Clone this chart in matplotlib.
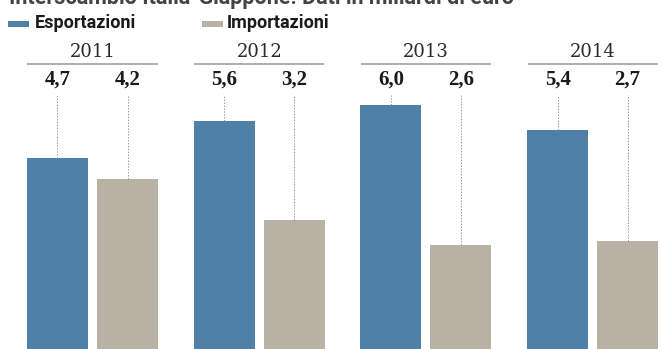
import matplotlib
matplotlib.use("Agg")
import matplotlib.pyplot as plt
from matplotlib.patches import Rectangle
import numpy as np

years = ["2011", "2012", "2013", "2014"]
esportazioni = [4.7, 5.6, 6.0, 5.4]
importazioni = [4.2, 3.2, 2.6, 2.7]
value_labels_exp = ["4,7", "5,6", "6,0", "5,4"]
value_labels_imp = ["4,2", "3,2", "2,6", "2,7"]
series_names = ["Esportazioni", "Importazioni"]
title = "Interscambio Italia-Giappone. Dati in miliardi di euro"

BLUE = "#4f80a8"
GREY = "#b8b1a4"
W, H = 661, 349

cond = ["Roboto", "DejaVu Sans"]
serif = ["DejaVu Serif"]
serif_val = ["Liberation Serif", "DejaVu Serif"]

fig = plt.figure(figsize=(W / 100, H / 100), dpi=100)
# axes: zero baseline ~3px below bottom of image
ax = fig.add_axes([0, -3 / H, 1, 1 + 3 / H])
ax.set_ylim(0, (H + 3) / 41.2)
ax.set_xlim(-92.5 / 166.7, (W - 92.5) / 166.7)
ax.axis("off")

x = np.arange(len(years))
off = 0.21
bw = 0.366
ax.bar(x - off, esportazioni, bw, color=BLUE, edgecolor="none")
ax.bar(x + off, importazioni, bw, color=GREY, edgecolor="none")

y_line = 7.0
y_year = 7.27
y_val = 6.62
y_dash_top = 6.24
for i, yr in enumerate(years):
    ax.plot([i - 0.39, i + 0.39], [y_line, y_line], color="#a8a8a8", lw=1.3,
            solid_capstyle="butt")
    ax.text(i, y_year, yr, ha="center", va="center", fontsize=13,
            family=serif, color="#2a2a2a")
    ax.text(i - off, y_val, value_labels_exp[i], ha="center", va="center",
            fontsize=15, family=serif_val, color="#1a1a1a", fontweight="bold")
    ax.text(i + off, y_val, value_labels_imp[i], ha="center", va="center",
            fontsize=15, family=serif_val, color="#1a1a1a", fontweight="bold")
    ax.plot([i - off, i - off], [esportazioni[i], y_dash_top], color="#999999",
            lw=0.7, ls=(0, (1.5, 1.5)))
    ax.plot([i + off, i + off], [importazioni[i], y_dash_top], color="#999999",
            lw=0.7, ls=(0, (1.5, 1.5)))

# legend
def px(xp, yp):
    return xp / W, 1 - yp / H

for (lx, tx, col, name) in [(8, 35, BLUE, series_names[0]), (202, 227, GREY, series_names[1])]:
    rx, ry = px(lx, 27)
    fig.add_artist(Rectangle((rx, ry), 21 / W, 6 / H, transform=fig.transFigure,
                             color=col, lw=0))
    tx_, ty_ = px(tx, 27.5)
    fig.text(tx_, ty_, name, ha="left", va="baseline", fontsize=13,
             family=cond, fontweight="bold", color="#1a1a1a")

# title, cut off at the top edge as in the reference
tx_, ty_ = px(9, 4)
fig.text(tx_, ty_, title, ha="left", va="baseline", fontsize=15.5,
         family=cond, fontweight="bold", color="#444444")

fig.savefig("out.png", dpi=100)
